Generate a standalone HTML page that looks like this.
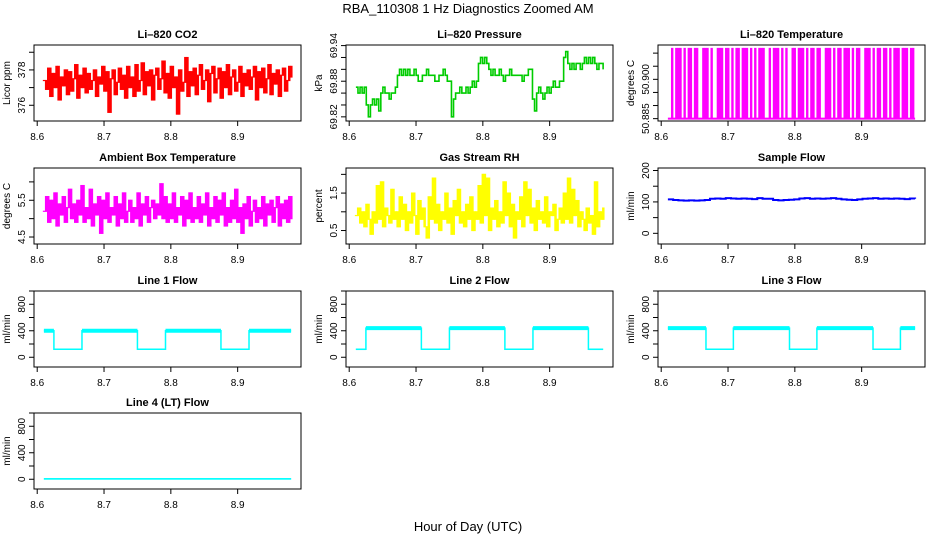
<!DOCTYPE html>
<html><head><meta charset="utf-8"><style>
body{margin:0;background:#fff;}
svg{display:block;font-family:"Liberation Sans",sans-serif;}
</style></head><body>
<svg id="chart" width="936" height="540" viewBox="0 0 936 540">
<text x="468" y="13" text-anchor="middle" font-size="13">RBA_110308  1 Hz Diagnostics Zoomed AM</text>
<text x="468" y="531" text-anchor="middle" font-size="13">Hour of Day (UTC)</text>
</svg>
<script>
const co2Values=[377.4,376.9,378.1,376.5,377.8,377.0,378.2,376.3,377.6,377.1,378.0,376.6,377.9,376.8,377.5,378.3,376.4,377.7,377.0,378.1,
376.7,377.8,376.9,377.4,378.0,376.5,377.6,377.2,378.2,376.8,377.9,375.6,377.5,378.0,376.6,377.3,378.1,376.9,377.7,376.4,
378.2,377.0,377.6,376.5,378.3,376.8,377.4,378.4,376.6,377.9,377.1,378.0,376.3,377.7,378.1,376.9,377.5,378.5,376.7,377.8,
376.4,378.2,377.0,377.6,375.5,378.0,376.8,377.3,378.7,376.5,377.9,377.1,378.1,376.6,377.7,378.3,376.9,377.4,378.0,376.2,
377.8,378.2,376.7,377.5,378.1,376.4,377.9,377.0,378.3,376.6,377.6,378.0,376.8,377.3,378.2,376.5,377.8,377.1,378.0,376.9,
377.6,378.2,376.3,377.9,377.0,378.1,376.7,377.5,378.3,376.6,377.8,377.2,378.0,376.5,377.7,378.1,376.8,377.4,378.2,377.6];
const pressureValues=[69.87,69.86,69.87,69.86,69.87,69.84,69.82,69.84,69.85,69.84,69.85,69.83,
69.86,69.87,69.86,69.86,69.85,69.86,69.86,69.87,
69.89,69.90,69.89,69.90,69.89,69.90,69.89,69.89,69.90,69.89,69.88,69.88,69.89,69.89,69.90,69.89,69.89,69.89,69.88,69.88,69.89,69.89,69.90,69.89,69.88,69.88,
69.82,69.85,69.86,69.86,69.87,69.86,69.86,69.87,69.86,69.87,69.88,69.87,69.88,
69.91,69.92,69.91,69.92,69.91,69.90,
69.89,69.90,69.89,69.89,69.90,69.89,69.88,69.89,69.89,69.90,69.89,69.89,69.89,69.89,69.89,69.88,69.89,69.89,69.90,69.90,
69.85,69.83,69.86,69.87,69.86,69.85,69.86,69.87,69.86,69.87,69.88,69.87,69.87,69.88,
69.88,69.92,69.93,69.91,69.90,69.91,69.90,69.91,69.91,69.90,69.91,69.92,69.91,69.92,69.91,69.92,69.91,69.90,69.91,69.91,69.90];
const tempPattern="LLHLHHHLHLHHLHHLLHHHLHLLHHHLHHLHLHHLHHHLHLHLHHHLLHLHHHLHLHLLHHLHHHLHLHHLHHLLHHHLHLHHLHHHLHLHHLLHHHLHLHHLHHLHLHHHLHHHLHHL";
const tempHigh=50.912, tempLow=50.885;
const ambientValues=[5.2,5.6,4.9,5.5,5.0,5.7,4.8,5.4,5.1,5.6,4.9,5.3,5.8,5.0,5.4,4.9,5.5,5.1,5.9,4.9,
5.3,5.0,5.8,4.8,5.4,5.1,5.6,4.6,5.5,5.0,5.7,4.9,5.3,5.1,5.6,4.8,5.4,5.0,5.7,4.9,
5.2,5.5,4.9,5.3,5.0,5.7,4.8,5.4,5.1,5.6,4.9,5.3,5.5,5.0,5.4,5.1,5.95,5.0,5.6,4.9,
5.4,5.0,5.7,4.9,5.3,5.1,5.6,4.8,5.5,5.0,5.7,4.9,5.3,5.0,5.6,4.9,5.4,5.1,5.7,4.8,
5.3,5.0,5.6,4.9,5.5,5.1,5.7,4.8,5.3,4.9,5.5,5.0,5.8,4.9,5.3,4.6,5.4,5.0,5.6,4.8,
5.2,5.5,4.9,5.3,5.0,5.6,4.8,5.4,5.1,5.5,4.9,5.3,5.6,4.8,5.4,5.0,5.5,4.9,5.6,5.0];
const rhValues=[0.9,1.1,0.7,1.0,0.6,1.2,0.8,0.4,1.0,0.7,1.7,0.8,1.8,0.6,1.1,0.9,0.7,1.6,0.8,1.0,
0.6,1.4,0.8,1.2,0.5,1.0,0.7,1.5,0.9,0.4,1.3,0.8,1.1,0.6,0.3,1.4,0.8,1.9,0.7,1.2,
0.5,1.0,0.8,1.5,0.7,1.1,0.4,1.3,0.9,1.6,0.7,1.0,0.6,1.2,0.8,1.4,0.5,1.0,0.8,1.7,
0.7,2.0,0.9,1.9,0.5,1.1,0.8,1.3,0.6,1.0,0.7,1.8,0.9,1.5,0.6,1.2,0.3,1.0,0.8,1.4,
0.6,1.8,0.9,1.6,0.7,1.1,0.5,1.3,0.8,1.0,0.7,1.4,0.6,1.0,0.9,1.2,0.5,0.8,1.1,0.7,
1.5,0.8,1.9,0.7,1.6,0.9,1.3,0.6,1.0,0.8,0.5,1.1,0.7,0.9,0.4,1.8,0.6,1.0,0.8,1.1];
const sampleFlowValues=[108,106,105,104,105,104,105,106,110,111,110,112,111,110,111,110,109,112,110,110,
106,105,106,107,108,111,112,110,111,110,111,112,110,108,107,106,108,110,111,112,110,111,110,111,110,109,111,110];
const line1Times=[8.61,8.625,8.667,8.75,8.792,8.875,8.917,8.98];
const line1Levels=[400,120,400,120,400,120,400];
const line2Times=[8.61,8.625,8.708,8.75,8.833,8.875,8.958,8.98];
const line2Levels=[120,440,120,440,120,440,120];
const line3Times=[8.61,8.667,8.708,8.792,8.833,8.917,8.958,8.98];
const line3Levels=[440,120,440,120,440,120,440];
const line4Times=[8.61,8.98];
const line4Levels=[5];
const xTicks=[8.6,8.7,8.8,8.9];
const xDomain=[8.5952,8.9948];
const tStart=8.61, tEnd=8.98;

const NS="http://www.w3.org/2000/svg";
const svg=document.getElementById('chart');
const colLeft=[34,346,658], rowTop=[45,168,291,413], W=267, H=76;
function mk(tag,attrs,parent){const e=document.createElementNS(NS,tag);for(const k in attrs)e.setAttribute(k,attrs[k]);(parent||svg).appendChild(e);return e;}
function times(n){const a=[];for(let i=0;i<n;i++)a.push(tStart+(tEnd-tStart)*i/(n-1));return a;}

function panel(c,r,key,title,ylab,dom,yt,ylabels){
  const L=colLeft[c],T=rowTop[r];
  const g=mk('g',{});
  
  
  const sx=v=>L+(v-xDomain[0])/(xDomain[1]-xDomain[0])*W;
  const sy=v=>T+H-(v-dom[0])/(dom[1]-dom[0])*H;
  const t=mk('text',{x:L+W/2,y:T-7,'text-anchor':'middle','font-size':11,'font-weight':'bold'},g);
  t.textContent=title;
  
  
  const yl=mk('text',{x:0,y:0,'text-anchor':'middle','font-size':10,transform:`translate(${L-24},${T+H/2}) rotate(-90)`},g);
  yl.textContent=ylab;
  
  
  const ax=mk('g',{stroke:'#000','stroke-width':1},g);
  
  
  mk('line',{x1:L,x2:L,y1:sy(yt[0]),y2:sy(yt[yt.length-1])},ax);
  yt.forEach(v=>mk('line',{x1:L-5,x2:L,y1:sy(v),y2:sy(v)},ax));
  mk('line',{x1:sx(xTicks[0]),x2:sx(xTicks[xTicks.length-1]),y1:T+H,y2:T+H},ax);
  xTicks.forEach(v=>{mk('line',{x1:sx(v),x2:sx(v),y1:T+H,y2:T+H+5},ax);
    const lt=mk('text',{x:sx(v),y:T+H+19,'text-anchor':'middle','font-size':10,stroke:'none'},g);
    lt.textContent=v.toFixed(1);
    
    });
  ylabels.forEach(v=>{const lt=mk('text',{x:0,y:0,'text-anchor':'middle','font-size':10,transform:`translate(${L-9},${sy(v)}) rotate(-90)`},g);
    lt.textContent=(typeof v==='number'?String(v):v);
    
    });
  const plot=mk('g',{},g);
  const box=mk('rect',{x:L,y:T,width:W,height:H,fill:'none',stroke:'#000','stroke-width':1},g);
  
  
  return {sx,sy,plot,T};
}
// dense noisy series: each sample drawn as a vertical bar spanning from previous to current value
function densePlot(p,vals,color,key){
  const ts=times(vals.length);
  const g=mk('g',{fill:color},p.plot);
  
  
  const dx=p.sx(ts[1])-p.sx(ts[0]);
  vals.forEach((v,i)=>{const prev=i>0?vals[i-1]:v;
    const y1=p.sy(Math.max(prev,v)),y2=p.sy(Math.min(prev,v));
    mk('rect',{x:p.sx(ts[i])-dx/2,y:y1-0.6,width:dx+0.4,height:y2-y1+1.2},g);});
}
function linePlot(p,vals,color,key,sw,step){
  const ts=times(vals.length);let d='';
  vals.forEach((v,i)=>{const x=p.sx(ts[i]),y=p.sy(v);
    if(i===0)d+=`M${x},${y}`;else if(step)d+=`H${x}V${y}`;else d+=`L${x},${y}`;});
  const e=mk('path',{d,fill:'none',stroke:color,'stroke-width':sw},p.plot);
  
  
}
function flowPlot(p,tms,lv,key){
  const g=mk('g',{},p.plot);
  
  
  let d='';
  lv.forEach((v,i)=>{const x1=p.sx(tms[i]),x2=p.sx(tms[i+1]),y=p.sy(v);
    d+=(i===0?`M${x1},${y}`:`V${y}`)+`H${x2}`;
    const hi=v>300;
    mk('line',{x1,x2,y1:y,y2:y,stroke:'#00ffff','stroke-width':hi?4:1.5},g);});
  mk('path',{d,fill:'none',stroke:'#00ffff','stroke-width':1.5},g);
}
let p=panel(0,0,'co2','Li\u2013820 CO2','Licor ppm',[375.11,379.41],[376,377,378,379],[376,378]);
densePlot(p,co2Values,'#ff0000','co2');
p=panel(1,0,'pressure','Li\u2013820 Pressure','kPa',[69.813,69.941],[69.82,69.84,69.86,69.88,69.90,69.92,69.94],['69.82','69.88','69.94']);
linePlot(p,pressureValues,'#00cc00','pressure',1.6,true);
p=panel(2,0,'li820-temp','Li\u2013820 Temperature','degrees C',[50.8841,50.9131],[50.885,50.89,50.895,50.9,50.905,50.91],['50.885','50.900']);
{const ts=times(tempPattern.length);const g=mk('g',{fill:'#ff00ff'},p.plot);
 
 
 const dx=p.sx(ts[1])-p.sx(ts[0]);
 mk('rect',{x:p.sx(ts[0]),y:p.sy(tempLow)-1,width:p.sx(ts[ts.length-1])-p.sx(ts[0]),height:2},g);
 for(let i=0;i<tempPattern.length;i++){if(tempPattern[i]==='H'){const v=tempHigh;
   mk('rect',{x:p.sx(ts[i])-dx/2,y:p.sy(v),width:dx+0.3,height:p.sy(tempLow)-p.sy(v)},g);}}}
p=panel(0,1,'ambient-temp','Ambient Box Temperature','degrees C',[4.31,6.378],[4.5,5,5.5,6],['4.5','5.5']);
densePlot(p,ambientValues,'#ff00ff','ambient-temp');
p=panel(1,1,'gas-rh','Gas Stream RH','percent',[0.14,2.17],[0.5,1,1.5,2],['0.5','1.5']);
densePlot(p,rhValues,'#ffff00','gas-rh');
p=panel(2,1,'sample-flow','Sample Flow','ml/min',[-34,208],[0,50,100,150,200],['0','100','200']);
linePlot(p,sampleFlowValues,'#0000ff','sample-flow',2,true);
const fdom=[-147,1000], fticks=[0,200,400,600,800,1000], flabels=['0','400','800'];
p=panel(0,2,'line1-flow','Line 1 Flow','ml/min',fdom,fticks,flabels);flowPlot(p,line1Times,line1Levels,'line1-flow');
p=panel(1,2,'line2-flow','Line 2 Flow','ml/min',fdom,fticks,flabels);flowPlot(p,line2Times,line2Levels,'line2-flow');
p=panel(2,2,'line3-flow','Line 3 Flow','ml/min',fdom,fticks,flabels);flowPlot(p,line3Times,line3Levels,'line3-flow');
p=panel(0,3,'line4-flow','Line 4 (LT) Flow','ml/min',fdom,fticks,flabels);flowPlot(p,line4Times,line4Levels,'line4-flow');
</script>
</body></html>
